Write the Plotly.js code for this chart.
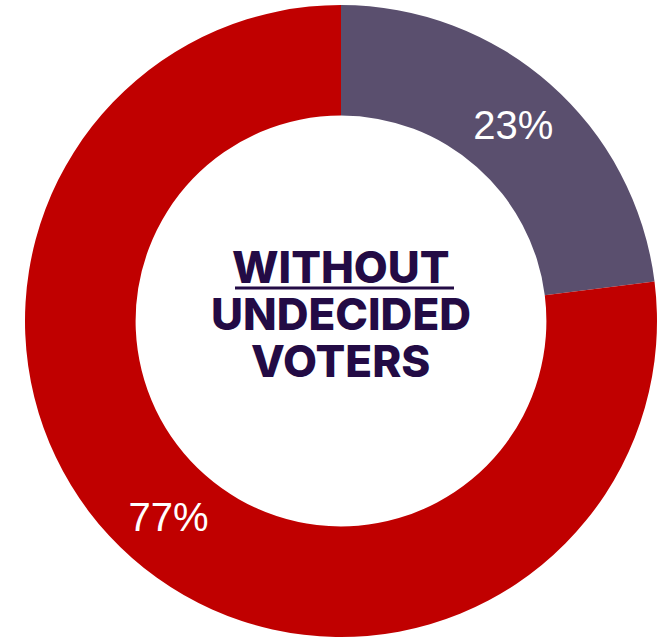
<!DOCTYPE html>
<html>
<head>
<meta charset="utf-8">
<script src="https://cdn.plot.ly/plotly-3.0.1.min.js"></script>
<style>html,body{margin:0;padding:0;background:#fff;}#chart{width:666px;height:638px;}</style>
</head>
<body>
<div id="chart"></div>
<script>
const labels = ["Other", "Main"];
const values = [23, 77];
const colors = ["#5A4F6E", "#C00000"];
const centerLines = ["WITHOUT", "UNDECIDED", "VOTERS"];

const W = 666, H = 638;
const cx = 341, cy = 321, R = 316;

const trace = {
  type: "pie",
  labels: labels,
  values: values,
  hole: 0.65,
  sort: false,
  direction: "clockwise",
  rotation: 0,
  marker: {colors: colors, line: {width: 0}},
  textinfo: "percent",
  texttemplate: "%{percent:.0%}",
  textposition: "inside",
  insidetextorientation: "horizontal",
  textfont: {family: "Liberation Sans, Arial, sans-serif", size: 40, color: "#ffffff"},
  automargin: false,
  showlegend: false,
  hoverinfo: "none",
  domain: {x: [(cx - R) / W, (cx + R) / W], y: [1 - (cy + R) / H, 1 - (cy - R) / H]}
};

const lineY = [267, 314, 361];
const annotations = centerLines.map((t, i) => ({
  text: t,
  xref: "paper", yref: "paper",
  x: cx / W, y: 1 - lineY[i] / H,
  xanchor: "center", yanchor: "middle",
  showarrow: false,
  font: {family: "Inter, sans-serif", size: 44, weight: 800, color: "#230B45"}
}));

const layout = {
  width: W, height: H,
  margin: {l: 0, r: 0, t: 0, b: 0},
  paper_bgcolor: "#ffffff",
  plot_bgcolor: "#ffffff",
  annotations: annotations,
  shapes: [{
    type: "line", xref: "paper", yref: "paper",
    x0: 235 / W, x1: 454 / W, y0: 1 - 288 / H, y1: 1 - 288 / H,
    line: {color: "#230B45", width: 3}
  }]
};

Plotly.newPlot("chart", [trace], layout, {displayModeBar: false, staticPlot: true});
</script>
</body>
</html>
